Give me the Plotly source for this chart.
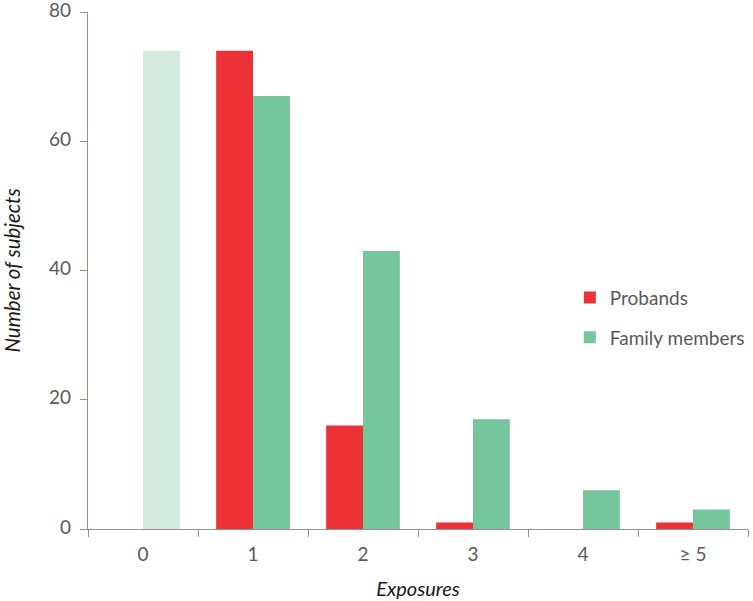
import plotly.graph_objects as go

categories = ["0", "1", "2", "3", "4", "≥ 5"]
probands = [None, 74, 16, 1, 0, 1]
family_members = [None, 67, 43, 17, 6, 3]
family_zero_exposure = [74, None, None, None, None, None]

RED = "#ec3237"
GREEN = "#76c69b"
LIGHT = "#d3ebdf"
AXIS = "#9a8f8b"
TEXT = "#595959"
FONT = "Lato"

fig = go.Figure()
fig.add_trace(go.Bar(x=categories, y=probands, name="Probands", marker_color=RED,
                     offsetgroup="p", legendgroup="p", marker_line_width=0))
fig.add_trace(go.Bar(x=categories, y=family_members, name="Family members", marker_color=GREEN,
                     offsetgroup="f", legendgroup="f", marker_line_width=0))
fig.add_trace(go.Bar(x=categories, y=family_zero_exposure, name="Family members (0)", marker_color=LIGHT,
                     offsetgroup="f", marker_line_width=0, showlegend=False))

fig.update_layout(
    width=753, height=601,
    margin=dict(l=88, r=3, t=12, b=72),
    paper_bgcolor="white", plot_bgcolor="white",
    barmode="group", bargap=0.33, bargroupgap=0,
    font=dict(family=FONT, color=TEXT, size=18),
    legend=dict(x=0.73, y=0.484, xanchor="left", yanchor="top",
                font=dict(size=19, color=TEXT), itemwidth=30,
                tracegroupgap=12, bgcolor="rgba(0,0,0,0)"),
    xaxis=dict(
        type="category", categoryorder="array", categoryarray=categories,
        showline=True, linecolor=AXIS, linewidth=1.3, automargin=False,
        ticks="outside", tickson="boundaries", ticklen=7, tickcolor=AXIS,
        ticklabelstandoff=8,
        tickfont=dict(size=19, color=TEXT), showgrid=False,
        title=dict(text="<i>Exposures</i>", font=dict(size=20, color="#1a1a1a"), standoff=18),
    ),
    yaxis=dict(
        range=[0, 80], tickvals=[0, 20, 40, 60, 80],
        showline=True, linecolor=AXIS, linewidth=1.3, automargin=False,
        ticks="outside", ticklen=7, tickcolor=AXIS, ticklabeloverflow="allow",
        ticklabelstandoff=5, ticklabelshift=-2,
        tickfont=dict(size=19, color=TEXT), showgrid=False, zeroline=False,
        title=dict(text="<i>Number of subjects</i>", font=dict(size=20.5, color="#1a1a1a"), standoff=24),
    ),
)

fig.write_html("out.html", config={"displayModeBar": False},
               post_script="document.body.style.margin='0';")
